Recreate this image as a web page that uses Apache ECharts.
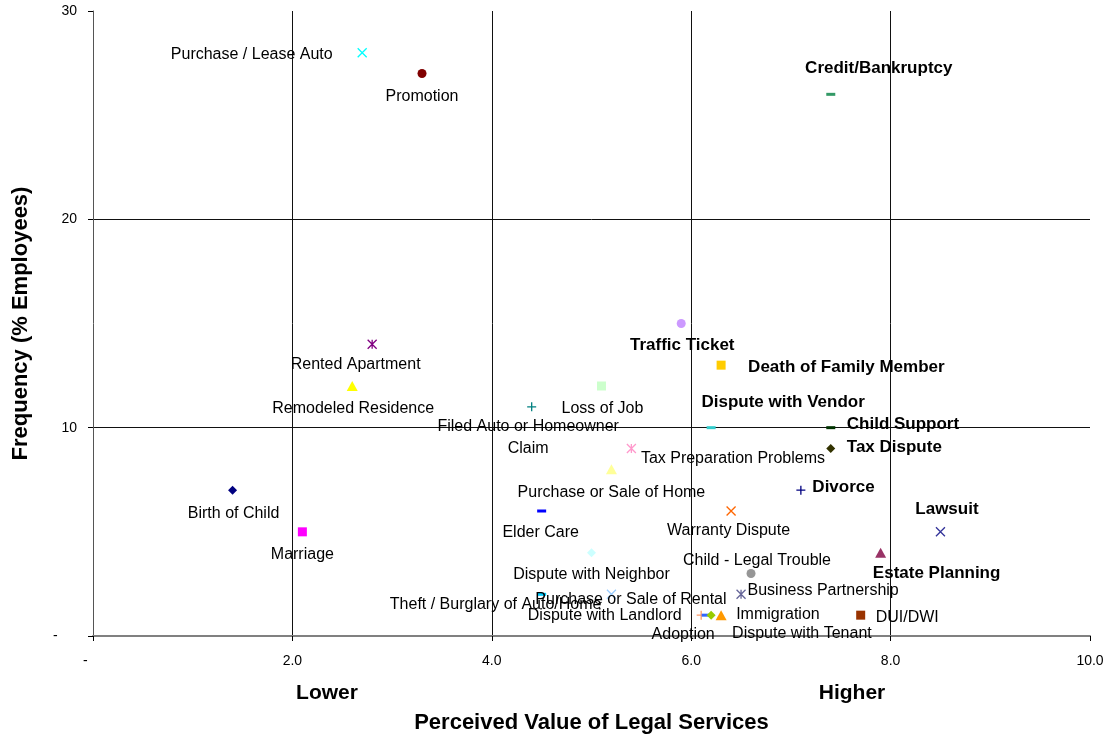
<!DOCTYPE html>
<html>
<head>
<meta charset="utf-8">
<script src="https://cdn.jsdelivr.net/npm/echarts@6/dist/echarts.min.js"></script>
<style>
  html, body { margin: 0; padding: 0; background: #fff; }
  #chart { width: 1107px; height: 738px; }
</style>
</head>
<body>
<div id="chart"></div>
<script>
// values
const events = [
  'Purchase / Lease Auto', 'Promotion', 'Credit/Bankruptcy', 'Rented Apartment',
  'Remodeled Residence', 'Traffic Ticket', 'Death of Family Member', 'Loss of Job',
  'Filed Auto or Homeowner\nClaim', 'Dispute with Vendor', 'Child Support', 'Tax Dispute',
  'Tax Preparation Problems', 'Purchase or Sale of Home', 'Divorce', 'Birth of Child',
  'Elder Care', 'Warranty Dispute', 'Lawsuit', 'Marriage',
  'Estate Planning', 'Dispute with Neighbor', 'Child - Legal Trouble', 'Business Partnership',
  'Theft / Burglary of Auto/Home', 'Purchase or Sale of Rental', 'Dispute with Landlord', 'Adoption',
  'Immigration', 'Dispute with Tenant', 'DUI/DWI'
];
const perceivedValue = [
  2.7, 3.3, 7.4, 2.8,
  2.6, 5.9, 6.3, 5.1,
  4.4, 6.2, 7.4, 7.4,
  5.4, 5.2, 7.1, 1.4,
  4.5, 6.4, 8.5, 2.1,
  7.9, 5.0, 6.6, 6.5,
  4.5, 5.2, 6.1, 6.15,
  6.2, 6.3, 7.7
];
const frequency = [
  28, 27, 26, 14,
  12, 15, 13, 12,
  11, 10, 10, 9,
  9, 8, 7, 7,
  6, 6, 5, 5,
  4, 4, 3, 2,
  2, 2, 1, 1,
  1, 1, 1
];
const boldEvents = [
  'Credit/Bankruptcy', 'Traffic Ticket', 'Death of Family Member', 'Dispute with Vendor',
  'Child Support', 'Tax Dispute', 'Divorce', 'Lawsuit', 'Estate Planning'
];
// zero is shown as a dash, padded the way the spreadsheet format does
const xTickLabels = ['-\u00a0\u00a0\u00a0\u00a0', '2.0', '4.0', '6.0', '8.0', '10.0'];
const yTickLabels = ['-\u00a0\u00a0\u00a0\u00a0\u00a0', '10', '20', '30'];

// marker look and label placement: [symbol, colour, label align, label offset from marker centre]
const markStyle = {
  'Purchase / Lease Auto': ['x', '#00ffff', 'right', [-27, 4]],
  'Promotion': ['circle', '#800000', 'center', [0, 23]],
  'Credit/Bankruptcy': ['dash', '#339966', 'center', [48, -26]],
  'Rented Apartment': ['star', '#800080', 'center', [-14, 23]],
  'Remodeled Residence': ['triangle', '#ffff00', 'center', [1, 23]],
  'Traffic Ticket': ['circle', '#cc99ff', 'center', [1, 22]],
  'Death of Family Member': ['square', '#ffcc00', 'left', [27, 2]],
  'Loss of Job': ['square', '#ccffcc', 'center', [1, 23]],
  'Filed Auto or Homeowner\nClaim': ['plus', '#008080', 'center', [-1, 33]],
  'Dispute with Vendor': ['dash', '#33cccc', 'center', [72, -25]],
  'Child Support': ['dash', '#003300', 'left', [16, -3]],
  'Tax Dispute': ['diamond', '#333300', 'left', [16, -1]],
  'Tax Preparation Problems': ['star', '#ff99cc', 'left', [12, 13]],
  'Purchase or Sale of Home': ['triangle', '#ffff99', 'center', [0, 23]],
  'Divorce': ['plus', '#000080', 'left', [14, 0]],
  'Birth of Child': ['diamond', '#000080', 'center', [1, 23]],
  'Elder Care': ['dash', '#0000ff', 'center', [-1, 22]],
  'Warranty Dispute': ['x', '#ff6600', 'center', [0, 22]],
  'Lawsuit': ['x', '#333399', 'center', [9, -20]],
  'Marriage': ['square', '#ff00ff', 'center', [0, 23]],
  'Estate Planning': ['triangle', '#993366', 'center', [56, 21]],
  'Dispute with Neighbor': ['diamond', '#ccffff', 'center', [0, 22]],
  'Child - Legal Trouble': ['circle', '#969696', 'center', [6, -13]],
  'Business Partnership': ['star', '#666699', 'left', [9, -1]],
  'Theft / Burglary of Auto/Home': ['dash', '#00ccff', 'center', [-46, 10]],
  'Purchase or Sale of Rental': ['x', '#99ccff', 'center', [22, 8]],
  'Dispute with Landlord': ['plus', '#ff9966', 'right', [-17, 3]],
  'Adoption': ['dash', '#3366ff', 'center', [-23, 19]],
  'Immigration': ['diamond', '#99cc00', 'left', [25, -1]],
  'Dispute with Tenant': ['triangle', '#ff9900', 'left', [11, 18]],
  'DUI/DWI': ['square', '#993300', 'left', [15, 2]]
};

const symbols = {
  circle: { symbol: 'circle', size: [9, 9], line: false },
  square: { symbol: 'rect', size: [9, 9], line: false },
  diamond: { symbol: 'diamond', size: [9, 9], line: false },
  triangle: { symbol: 'triangle', size: [11, 10], line: false },
  dash: { symbol: 'rect', size: [9, 3], line: false },
  x: { symbol: 'path://M0,0L10,10M10,0L0,10', size: [9, 9], line: true },
  plus: { symbol: 'path://M5,0L5,10M0,5L10,5', size: [9, 9], line: true },
  star: { symbol: 'path://M0,0L10,10M10,0L0,10M5,0L5,10', size: [9, 9], line: true }
};

const font = 'Liberation Sans, Arial, sans-serif';

const points = events.map((name, i) => {
  const [shape, color, align, offset] = markStyle[name];
  const s = symbols[shape];
  const bold = boldEvents.includes(name);
  return {
    name: name,
    value: [perceivedValue[i], frequency[i]],
    symbol: s.symbol,
    symbolSize: s.size,
    itemStyle: s.line
      ? { color: 'none', borderColor: color, borderWidth: 1.3, opacity: 1 }
      : { color: color, opacity: 1 },
    label: {
      show: true,
      // position is measured from the symbol box's top-left corner
      position: [offset[0] + s.size[0] / 2, offset[1] + s.size[1] / 2],
      align: align,
      verticalAlign: 'middle',
      formatter: name,
      color: '#000',
      opacity: 1,
      textBorderWidth: 0,
      fontFamily: font,
      fontSize: bold ? 17 : 16,
      fontWeight: bold ? 'bold' : 'normal',
      lineHeight: 22
    }
  };
});

const chart = echarts.init(document.getElementById('chart'), null, { renderer: 'canvas' });

chart.setOption({
  backgroundColor: '#fff',
  animation: false,
  grid: { left: 93, right: 17, top: 11, bottom: 102, outerBoundsMode: 'none', containLabel: false },
  xAxis: {
    type: 'value',
    min: 0,
    max: 10,
    interval: 2,
    name: 'Perceived Value of Legal Services',
    nameLocation: 'middle',
    nameGap: 76,
    nameTextStyle: { fontFamily: font, fontSize: 22, fontWeight: 'bold', color: '#000' },
    axisLine: { show: true, onZero: false, lineStyle: { color: '#808080', width: 2 } },
    axisTick: { show: true, length: 5, lineStyle: { color: '#000' } },
    axisLabel: {
      margin: 18,
      fontFamily: font,
      fontSize: 14,
      color: '#000',
      formatter: (v) => xTickLabels[Math.round(v / 2)]
    },
    splitLine: { show: true, showMinLine: false, showMaxLine: false, lineStyle: { color: '#111', width: 1 } }
  },
  yAxis: {
    type: 'value',
    min: 0,
    max: 30,
    interval: 10,
    name: 'Frequency (% Employees)',
    nameLocation: 'middle',
    nameGap: 61,
    nameRotate: 90,
    nameTextStyle: { fontFamily: font, fontSize: 22, fontWeight: 'bold', color: '#000' },
    axisLine: { show: true, lineStyle: { color: '#555', width: 1 } },
    axisTick: { show: true, length: 5, lineStyle: { color: '#000' } },
    axisLabel: {
      margin: 16,
      fontFamily: font,
      fontSize: 14,
      color: '#000',
      formatter: (v) => yTickLabels[Math.round(v / 10)]
    },
    splitLine: { show: true, showMinLine: false, showMaxLine: false, lineStyle: { color: '#111', width: 1 } }
  },
  graphic: [
    {
      type: 'text', x: 327, y: 693,
      style: { text: 'Lower', fontFamily: font, fontSize: 21, fontWeight: 'bold', fill: '#000', align: 'center', verticalAlign: 'middle' }
    },
    {
      type: 'text', x: 852, y: 693,
      style: { text: 'Higher', fontFamily: font, fontSize: 21, fontWeight: 'bold', fill: '#000', align: 'center', verticalAlign: 'middle' }
    }
  ],
  series: [
    {
      type: 'scatter',
      data: points,
      emphasis: { disabled: true },
      labelLayout: { hideOverlap: false }
    }
  ]
});
</script>
</body>
</html>
